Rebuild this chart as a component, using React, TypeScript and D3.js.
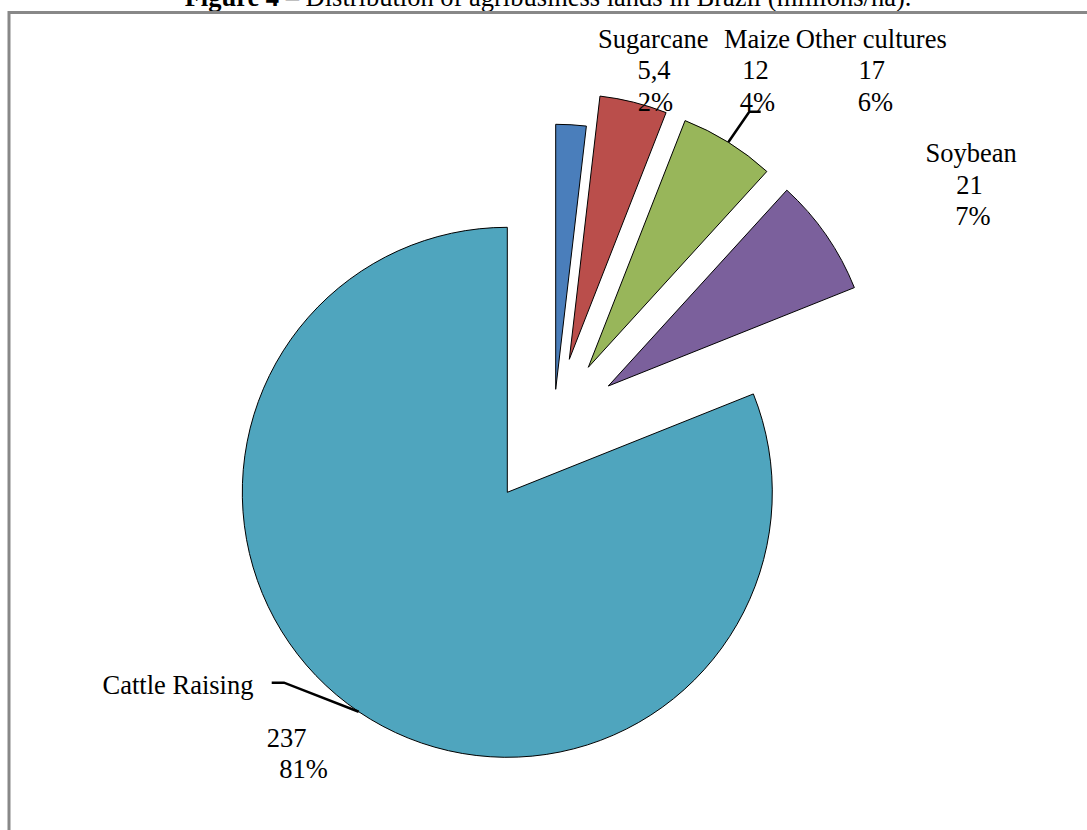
import React from "react";
import * as d3 from "d3";

// ---- data ----
const categories = ["Sugarcane", "Maize", "Other cultures", "Soybean", "Cattle Raising"];
const values = [5.4, 12, 17, 21, 237];
const valueLabels = ["5,4", "12", "17", "21", "237"];
const percentLabels = ["2%", "4%", "6%", "7%", "81%"];
const colors = ["#4A7EBB", "#BA4E4B", "#98B65A", "#7B609C", "#4FA5BE"];

// ---- layout ----
const W = 1087;
const H = 830;
const CX = 507.3;
const CY = 492.3;
const R = 265;
const explodeOffsets: [number, number][] = [
  [48.4, -103],
  [62, -133],
  [81, -125],
  [101, -106.3],
  [0, 0],
];
// per label: positions of its three lines [name, value, percent]
const labelLines: [number, number][][] = [
  [[653.3, 47.5], [654, 79], [655.5, 110.5]],
  [[757, 47.5], [755.5, 79], [757.5, 110.5]],
  [[871.3, 47.5], [871.7, 79], [875.3, 110.5]],
  [[971.2, 162.3], [969.5, 193.8], [973, 225.3]],
  [[178, 694], [286.5, 747], [303.5, 778]],
];
// leader lines: slice index -> extra points after the slice anchor
const leaders: { index: number; pts: [number, number][] }[] = [
  { index: 2, pts: [[749.3, 111.7], [760.7, 111.7]] },
  { index: 4, pts: [[284, 682.7], [271.7, 682.7]] },
];

const FONT = "'Liberation Serif', 'Times New Roman', serif";

export default function App() {
  const pie = d3.pie<number>().sort(null).value((d) => d);
  const arcs = pie(values);
  const arcGen = d3.arc<d3.PieArcDatum<number>>().innerRadius(0).outerRadius(R);

  const anchorPoint = (i: number): [number, number] => {
    const a = arcs[i];
    const mid = (a.startAngle + a.endAngle) / 2;
    const [dx, dy] = explodeOffsets[i];
    return [CX + dx + R * Math.sin(mid), CY + dy - R * Math.cos(mid)];
  };

  const line = d3.line<[number, number]>();

  return (
    <svg
      width={W}
      height={H}
      style={{ position: "absolute", left: 0, top: 0, background: "#fff" }}
    >
      <rect x={0} y={0} width={W} height={H} fill="#fff" />
      {/* title (clipped at top, as in the reference) */}
      <text x={548} y={6} textAnchor="middle" fontFamily={FONT} fontSize={26.5} fill="#000">
        <tspan fontWeight="bold">Figure 4</tspan>
        <tspan> – Distribution of agribusiness lands in Brazil (millions/ha).</tspan>
      </text>
      {/* frame */}
      <path d={`M9,${H + 10} V12.5 H${W + 10}`} fill="none" stroke="#888" strokeWidth={3} />

      {/* slices */}
      {arcs.map((a, i) => (
        <path
          key={categories[i]}
          d={arcGen(a) || ""}
          transform={`translate(${CX + explodeOffsets[i][0]},${CY + explodeOffsets[i][1]})`}
          fill={colors[i]}
          stroke="#000"
          strokeWidth={1}
          strokeLinejoin="round"
        />
      ))}

      {/* leader lines */}
      {leaders.map((l) => (
        <path
          key={l.index}
          d={line([anchorPoint(l.index), ...l.pts]) || ""}
          fill="none"
          stroke="#000"
          strokeWidth={2.5}
        />
      ))}

      {/* labels */}
      {categories.map((c, i) => {
        const texts = [c, valueLabels[i], percentLabels[i]];
        return (
          <g key={c}>
            {texts.map((t, j) => (
              <text
                key={j}
                x={labelLines[i][j][0]}
                y={labelLines[i][j][1]}
                textAnchor="middle"
                fontFamily={FONT}
                fontSize={26.5}
                fill="#000"
              >
                {t}
              </text>
            ))}
          </g>
        );
      })}
    </svg>
  );
}
